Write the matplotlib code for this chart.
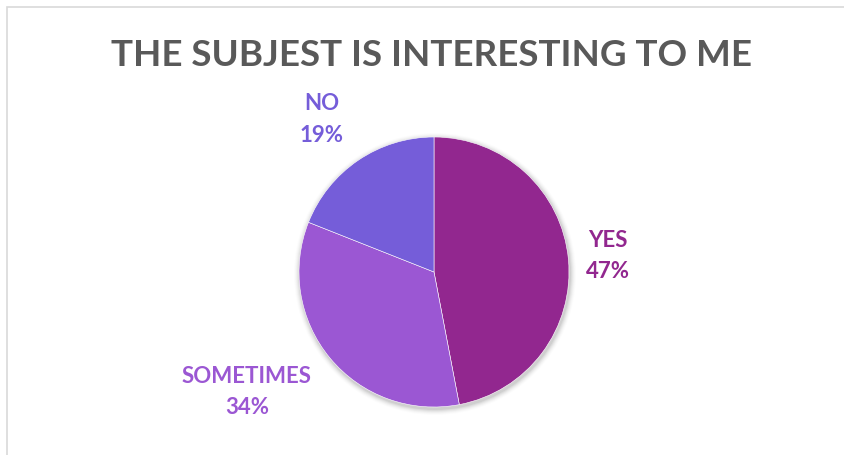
import numpy as np
import matplotlib.pyplot as plt
from matplotlib.patches import Rectangle

title = "THE SUBJEST IS INTERESTING TO ME"
answers = ["YES", "SOMETIMES", "NO"]
shares = [47, 34, 19]
colors = ["#92278F", "#9B57D3", "#755DD9"]
# label anchor for each slice, offset from the pie centre in radii
label_off = [(1.29, 0.12), (-1.385, -0.89), (-0.83, 1.13)]

W, H = 845, 455
fig = plt.figure(figsize=(W / 100, H / 100), dpi=100)
ax = fig.add_axes([0, 0, 1, 1])

cx, cy, r = 434, 455 - 272, 135

# soft shadow under the pie
for k, a in zip(range(6), np.linspace(0.05, 0.012, 6)):
    ax.add_patch(plt.Circle((cx + 1, cy - 2), r + 1 + k, color="black",
                            alpha=a, linewidth=0))

wedges, _ = ax.pie(shares, colors=colors, startangle=90, counterclock=False,
                   center=(cx, cy), radius=r, frame=True,
                   wedgeprops=dict(edgecolor="white", linewidth=0.4))

ax.set_xlim(0, W)
ax.set_ylim(0, H)
ax.set_aspect("equal")
ax.axis("off")

# chart frame (runs off the right and bottom edges)
ax.add_patch(Rectangle((7, -20), W + 40, H - 7 + 20, fill=False,
                       edgecolor="#d9d9d9", linewidth=1.2))

total = sum(shares)
for name, val, c, (dx, dy) in zip(answers, shares, colors, label_off):
    ax.text(cx + dx * r, cy + dy * r, f"{name}\n{round(100 * val / total)}%",
            color=c, ha="center", va="center", fontsize=16,
            fontweight="bold", family="Lato", linespacing=1.6)

ax.text(432, 455 - 55, title, ha="center", va="center", fontsize=26.5,
        fontweight="bold", color="#595959", family="Lato")

fig.savefig("out.png", dpi=100)
